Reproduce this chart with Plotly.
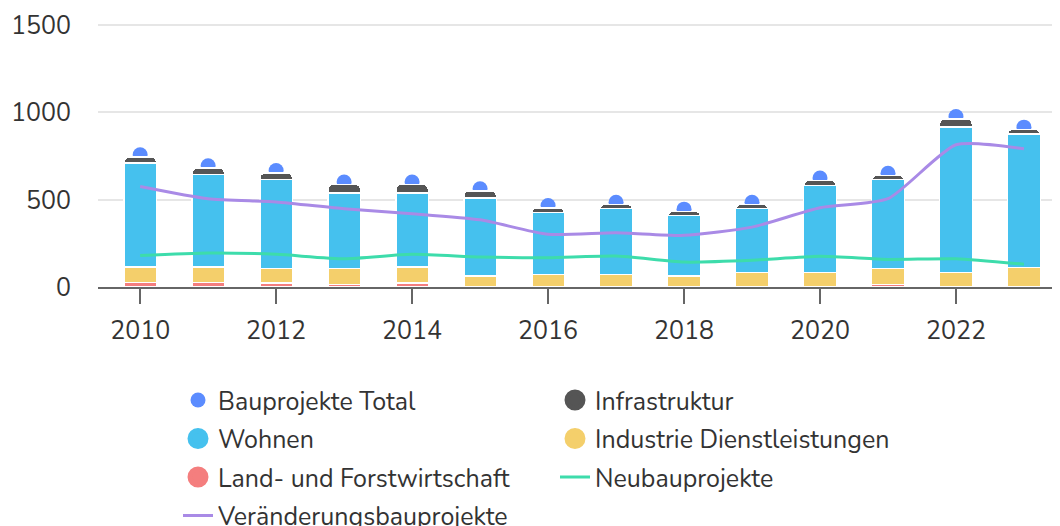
import plotly.graph_objects as go

years = [2010, 2011, 2012, 2013, 2014, 2015, 2016, 2017, 2018, 2019, 2020, 2021, 2022, 2023]
land = [25, 25, 22, 15, 22, 0, 0, 0, 0, 0, 0, 15, 0, 0]
industrie = [90, 90, 83, 90, 93, 63, 73, 73, 63, 82, 82, 90, 82, 111]
wohnen = [595, 530, 511, 435, 425, 448, 353, 376, 346, 367, 500, 510, 834, 767]
infra = [34, 36, 37, 48, 48, 39, 28, 24, 24, 24, 29, 24, 48, 25]
total = [758, 695, 667, 601, 601, 563, 467, 486, 446, 486, 624, 652, 977, 916]
neubau = [181, 195, 187, 162, 187, 172, 168, 177, 143, 153, 176, 158, 162, 130]
veraenderung = [576, 506, 487, 448, 420, 385, 302, 311, 296, 343, 454, 506, 815, 792]
y_ticks = [0, 500, 1000, 1500]

C_TOTAL = "#5b8cff"
C_INFRA = "#555555"
C_WOHNEN = "#45c1ee"
C_IND = "#f4cf6b"
C_LAND = "#f47e7e"
C_NEU = "#3ddcab"
C_VER = "#a98ae6"

FONT = "Nunito, Open Sans, sans-serif"
W, H = 1060, 526
OFF = 8  # page body offset
ML, MR, MT, MB = 98 - OFF, 0 + OFF, 12, 239 + OFF
PH = H - MT - MB
YMAX = 1530
LEG_FS = 25

def py(px_window):
    px = px_window - OFF
    return (H - MB - px) / PH

def pxx(px_window):
    px = px_window - OFF
    return (px - ML) / (W - ML - MR)

fig = go.Figure()

# total dots (behind bars)
fig.add_trace(go.Scatter(x=years, y=total, mode="markers", name="Bauprojekte Total",
                         marker=dict(color=C_TOTAL, size=15), yaxis="y",
                         legend="legend", showlegend=True))

bar_line = dict(color="white", width=1.5)
for name, vals, col in [("Land- und Forstwirtschaft", land, C_LAND),
                        ("Industrie Dienstleistungen", industrie, C_IND),
                        ("Wohnen", wohnen, C_WOHNEN),
                        ("Infrastruktur", infra, C_INFRA)]:
    fig.add_trace(go.Bar(x=years, y=vals, name=name, width=0.48,
                         marker=dict(color=col, line=bar_line),
                         yaxis="y2", showlegend=False))

fig.add_trace(go.Scatter(x=years, y=neubau, mode="lines", name="Neubauprojekte",
                         line=dict(color=C_NEU, width=3, shape="spline", smoothing=0.6),
                         yaxis="y2", legend="legend3"))
fig.add_trace(go.Scatter(x=years, y=veraenderung, mode="lines", name="Veränderungsbauprojekte",
                         line=dict(color=C_VER, width=3, shape="spline", smoothing=0.6),
                         yaxis="y2", legend="legend4"))

# legend-only circle entries for bar series
for name, col, lg in [("Infrastruktur", C_INFRA, "legend"),
                      ("Wohnen", C_WOHNEN, "legend2"),
                      ("Industrie Dienstleistungen", C_IND, "legend2"),
                      ("Land- und Forstwirtschaft", C_LAND, "legend3")]:
    fig.add_trace(go.Scatter(x=[None], y=[None], mode="markers", name=name,
                             marker=dict(color=col, size=16, line=dict(color=col, width=5)),
                             legend=lg, showlegend=True))

ranks = {"Bauprojekte Total": 1, "Infrastruktur": 2, "Wohnen": 3,
         "Industrie Dienstleistungen": 4, "Land- und Forstwirtschaft": 5,
         "Neubauprojekte": 6, "Veränderungsbauprojekte": 7}
for tr in fig.data:
    tr.legendrank = ranks.get(tr.name, 10)

legend_font = dict(family=FONT, size=LEG_FS, color="#333333")
half = (LEG_FS * 1.3 + 3) / 2 + 5
row_centers = [400, 438.5, 477, 515.5]
legend_names = ["legend", "legend2", "legend3", "legend4"]
legend_cfg = {}
for lname, c in zip(legend_names, row_centers):
    legend_cfg[lname] = dict(orientation="h", x=pxx(178), xanchor="left",
                             y=py(c - half), yanchor="top", font=legend_font,
                             entrywidth=332, entrywidthmode="pixels",
                             bgcolor="rgba(0,0,0,0)", borderwidth=0,
                             traceorder="normal")

fig.update_layout(
    width=W, height=H,
    margin=dict(l=ML, r=MR, t=MT, b=MB, autoexpand=False),
    paper_bgcolor="white", plot_bgcolor="white",
    barmode="stack", barcornerradius=5,
    font=dict(family=FONT, size=22, color="#333333"),
    xaxis=dict(range=[2009.38, 2023.53], tickmode="linear", tick0=2010, dtick=2,
               showgrid=False, zeroline=False, showline=True, linecolor="#666666",
               linewidth=2, ticks="outside", ticklen=15, tickwidth=2, tickcolor="#666666",
               ticklabelstandoff=5,
               tickfont=dict(family=FONT, size=25, color="#333333")),
    yaxis=dict(range=[0, YMAX], tickvals=y_ticks, showgrid=True,
               gridcolor="#e6e6e6", gridwidth=1.5, zeroline=False, showline=False,
               ticks="", ticklabelstandoff=26,
               tickfont=dict(family=FONT, size=25, color="#333333")),
    yaxis2=dict(range=[0, YMAX], overlaying="y", visible=False),
    showlegend=True,
    **legend_cfg,
)

fig.write_html("out.html")
